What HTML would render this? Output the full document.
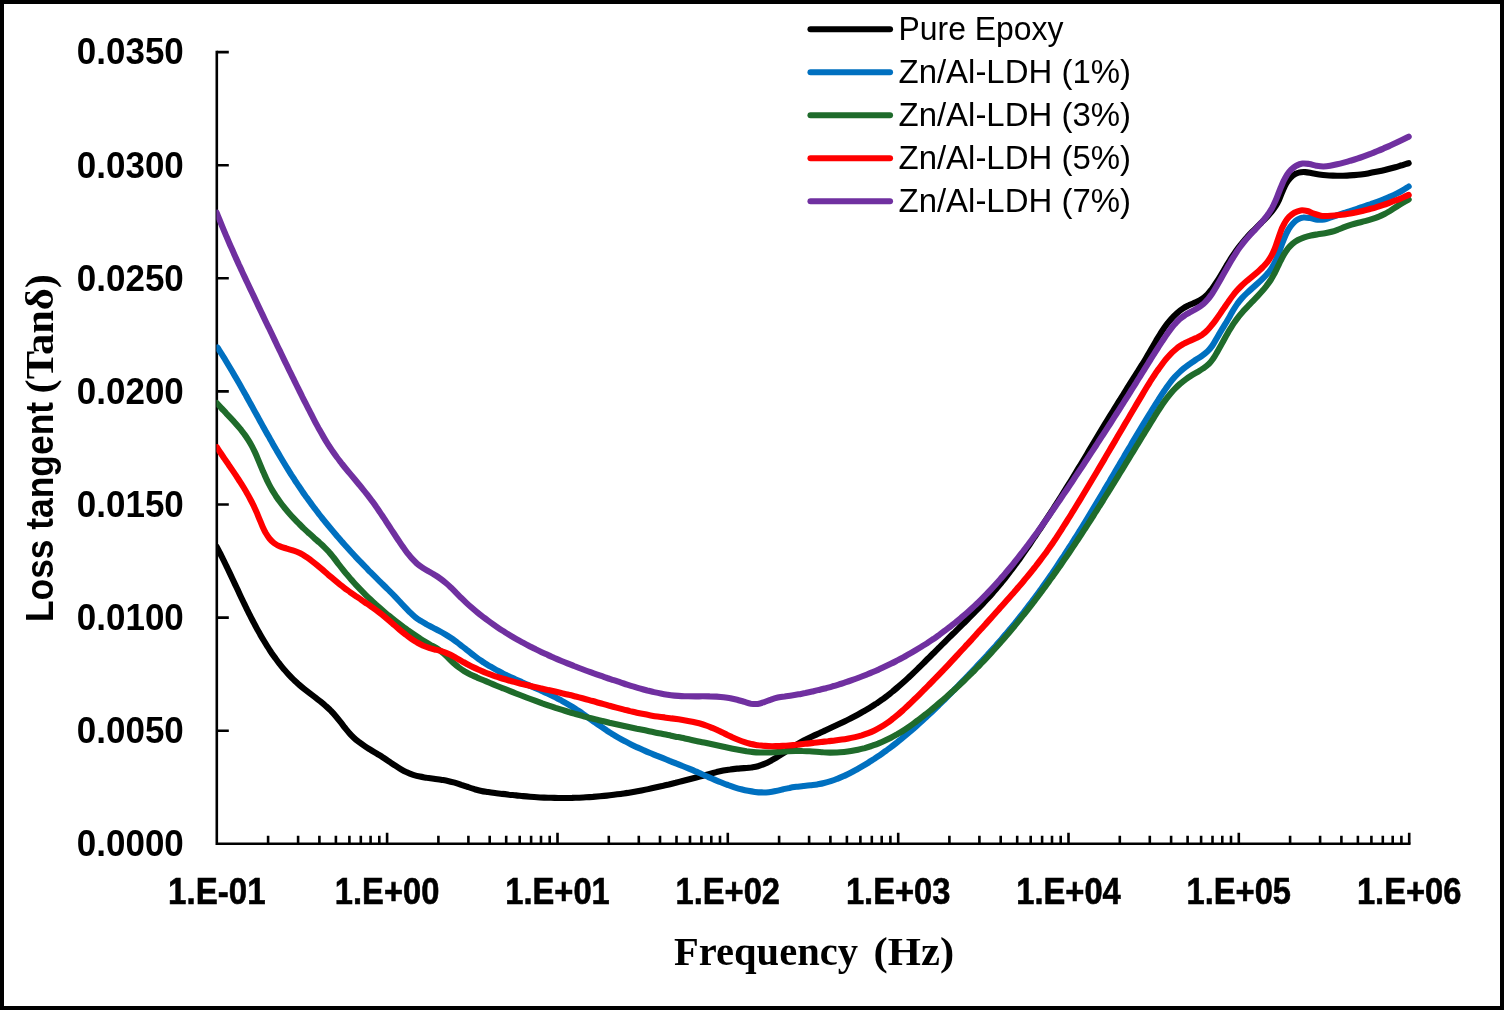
<!DOCTYPE html>
<html><head><meta charset="utf-8"><title>Loss tangent vs Frequency</title>
<style>html,body{margin:0;padding:0;background:#fff}body{width:1504px;height:1010px;overflow:hidden}svg{display:block}.yl{font-family:"Liberation Sans",sans-serif;font-weight:bold;font-size:37.5px;fill:#000}.xl{font-family:"Liberation Sans",sans-serif;font-weight:bold;font-size:36.5px;fill:#000;stroke:#000;stroke-width:0.6px}.lg{font-family:"Liberation Sans",sans-serif;font-size:33px;fill:#000}.ts{font-family:"Liberation Serif",serif;font-weight:bold;font-size:40.5px;fill:#000}.tb{font-family:"Liberation Sans",sans-serif;font-weight:bold;font-size:39px;fill:#000}.c{fill:none;stroke-width:6.1;stroke-linecap:round;stroke-linejoin:round}</style></head><body>
<svg width="1504" height="1010" viewBox="0 0 1504 1010">
<rect x="0" y="0" width="1504" height="1010" fill="#fff"/>
<rect x="2" y="2" width="1500" height="1006" fill="none" stroke="#000" stroke-width="4"/>
<g stroke="#000" stroke-width="2.6" fill="none" stroke-linecap="butt">
<path d="M216.8 50.8V843.8H1410.5"/>
<path d="M216.8 730.7h12M216.8 617.6h12M216.8 504.5h12M216.8 391.4h12M216.8 278.3h12M216.8 165.2h12M216.8 52.1h12"/>
<path d="M268.1 843.8v-8M298.1 843.8v-8M319.4 843.8v-8M335.9 843.8v-8M349.4 843.8v-8M360.8 843.8v-8M370.6 843.8v-8M379.3 843.8v-8M387.1 843.8v-11M438.4 843.8v-8M468.4 843.8v-8M489.7 843.8v-8M506.2 843.8v-8M519.7 843.8v-8M531.1 843.8v-8M541.0 843.8v-8M549.7 843.8v-8M557.5 843.8v-11M608.8 843.8v-8M638.8 843.8v-8M660.0 843.8v-8M676.5 843.8v-8M690.0 843.8v-8M701.4 843.8v-8M711.3 843.8v-8M720.0 843.8v-8M727.8 843.8v-11M779.1 843.8v-8M809.1 843.8v-8M830.4 843.8v-8M846.9 843.8v-8M860.4 843.8v-8M871.8 843.8v-8M881.7 843.8v-8M890.4 843.8v-8M898.2 843.8v-11M949.4 843.8v-8M979.4 843.8v-8M1000.7 843.8v-8M1017.2 843.8v-8M1030.7 843.8v-8M1042.1 843.8v-8M1052.0 843.8v-8M1060.7 843.8v-8M1068.5 843.8v-11M1119.8 843.8v-8M1149.8 843.8v-8M1171.1 843.8v-8M1187.6 843.8v-8M1201.1 843.8v-8M1212.5 843.8v-8M1222.3 843.8v-8M1231.0 843.8v-8M1238.8 843.8v-11M1290.1 843.8v-8M1320.1 843.8v-8M1341.4 843.8v-8M1357.9 843.8v-8M1371.4 843.8v-8M1382.8 843.8v-8M1392.7 843.8v-8M1401.4 843.8v-8M1409.2 843.8v-11"/>
</g>
<clipPath id="pc"><rect x="216.4" y="40" width="1210" height="810"/></clipPath><g clip-path="url(#pc)">
<path class="c" stroke="#000000" d="M216.7 546.8C217.2 547.8 218.9 550.9 219.9 553.0C221.0 555.1 222.0 557.2 223.1 559.3C224.1 561.4 225.1 563.5 226.2 565.6C227.2 567.7 228.2 569.8 229.2 571.9C230.2 574.0 231.2 576.1 232.2 578.3C233.2 580.4 234.2 582.5 235.2 584.6C236.2 586.7 237.2 588.8 238.2 590.9C239.1 593.1 240.1 595.2 241.1 597.3C242.1 599.4 243.1 601.5 244.2 603.6C245.2 605.7 246.2 607.8 247.2 609.9C248.3 612.0 249.3 614.1 250.4 616.2C251.4 618.3 252.5 620.3 253.6 622.4C254.7 624.5 255.8 626.5 256.9 628.6C258.0 630.7 259.2 632.7 260.3 634.7C261.5 636.8 262.7 638.8 263.9 640.8C265.1 642.8 266.3 644.8 267.6 646.8C268.8 648.8 270.1 650.7 271.4 652.7C272.7 654.6 274.1 656.5 275.5 658.4C276.8 660.3 278.2 662.2 279.7 664.0C281.1 665.9 282.6 667.7 284.1 669.4C285.6 671.2 287.1 672.9 288.7 674.6C290.3 676.3 291.9 678.0 293.6 679.6C295.3 681.3 297.0 682.8 298.7 684.4C300.4 685.9 302.2 687.4 304.1 688.9C305.9 690.3 307.7 691.7 309.6 693.2C311.4 694.6 313.3 696.0 315.2 697.4C317.0 698.8 318.9 700.3 320.7 701.7C322.5 703.2 324.3 704.7 326.0 706.2C327.8 707.8 329.5 709.3 331.1 711.0C332.8 712.7 334.3 714.4 335.8 716.2C337.3 718.0 338.8 719.9 340.2 721.7C341.7 723.6 343.1 725.5 344.5 727.3C346.0 729.1 347.5 731.0 349.0 732.7C350.5 734.5 352.1 736.1 353.8 737.7C355.5 739.3 357.3 740.7 359.2 742.2C361.0 743.6 362.9 744.9 364.9 746.2C366.8 747.5 368.8 748.7 370.8 750.0C372.8 751.2 374.9 752.4 376.9 753.6C378.9 754.9 381.0 756.1 382.9 757.4C384.9 758.7 386.9 760.0 388.9 761.4C390.9 762.7 392.8 764.1 394.8 765.3C396.7 766.6 398.7 767.9 400.7 769.1C402.7 770.3 404.7 771.4 406.8 772.3C408.9 773.3 411.0 774.1 413.2 774.8C415.4 775.5 417.6 776.1 419.9 776.6C422.1 777.1 424.5 777.4 426.8 777.8C429.1 778.1 431.5 778.4 433.8 778.7C436.2 779.1 438.5 779.3 440.9 779.7C443.2 780.1 445.5 780.4 447.8 780.9C450.1 781.4 452.4 782.0 454.7 782.6C456.9 783.3 459.1 784.0 461.3 784.8C463.6 785.5 465.8 786.3 468.0 787.0C470.2 787.8 472.4 788.5 474.6 789.2C476.8 789.8 479.1 790.4 481.4 790.9C483.6 791.4 485.9 791.7 488.2 792.1C490.5 792.5 492.8 792.8 495.1 793.1C497.5 793.4 499.8 793.6 502.1 793.9C504.4 794.1 506.8 794.4 509.1 794.7C511.4 794.9 513.8 795.2 516.1 795.4C518.4 795.6 520.8 795.9 523.1 796.1C525.4 796.3 527.8 796.5 530.1 796.7C532.4 796.9 534.7 797.1 537.1 797.2C539.4 797.4 541.7 797.5 544.1 797.6C546.4 797.7 548.7 797.8 551.1 797.8C553.4 797.9 555.7 797.9 558.1 798.0C560.4 798.0 562.7 798.0 565.0 798.0C567.4 798.0 569.7 797.9 572.0 797.9C574.4 797.8 576.7 797.8 579.0 797.7C581.3 797.6 583.7 797.5 586.0 797.3C588.3 797.2 590.6 797.0 592.9 796.9C595.3 796.7 597.6 796.5 599.9 796.3C602.2 796.1 604.5 795.9 606.9 795.6C609.2 795.4 611.5 795.1 613.8 794.8C616.1 794.5 618.4 794.2 620.7 793.9C623.0 793.6 625.3 793.2 627.7 792.9C630.0 792.5 632.3 792.1 634.6 791.7C636.9 791.3 639.2 790.9 641.5 790.4C643.8 790.0 646.1 789.6 648.3 789.1C650.6 788.6 652.9 788.1 655.2 787.6C657.5 787.1 659.8 786.6 662.1 786.1C664.4 785.5 666.6 785.0 668.9 784.5C671.2 783.9 673.5 783.3 675.7 782.8C678.0 782.2 680.3 781.6 682.6 781.0C684.8 780.5 687.1 779.9 689.4 779.3C691.6 778.7 693.9 778.1 696.2 777.5C698.4 776.9 700.7 776.3 702.9 775.7C705.2 775.1 707.5 774.5 709.7 773.9C712.0 773.3 714.2 772.7 716.5 772.1C718.7 771.6 721.0 771.1 723.3 770.6C725.6 770.1 727.9 769.7 730.2 769.4C732.5 769.0 734.8 768.8 737.1 768.6C739.5 768.4 741.8 768.3 744.2 768.1C746.5 767.9 748.8 767.8 751.1 767.5C753.4 767.1 755.7 766.8 757.9 766.2C760.1 765.6 762.3 764.8 764.4 763.9C766.6 763.1 768.7 762.0 770.7 760.9C772.8 759.8 774.8 758.5 776.9 757.3C778.9 756.0 780.9 754.7 782.9 753.4C784.9 752.1 786.8 750.7 788.8 749.4C790.8 748.1 792.8 746.9 794.8 745.7C796.8 744.5 798.8 743.3 800.8 742.2C802.9 741.1 804.9 740.1 806.9 739.1C809.0 738.1 811.0 737.1 813.1 736.1C815.2 735.1 817.3 734.2 819.4 733.2C821.5 732.2 823.6 731.3 825.7 730.3C827.8 729.3 830.0 728.3 832.1 727.3C834.2 726.3 836.4 725.3 838.5 724.3C840.7 723.3 842.8 722.3 845.0 721.2C847.1 720.2 849.2 719.1 851.4 718.0C853.5 716.9 855.6 715.8 857.7 714.7C859.8 713.6 861.9 712.4 863.9 711.2C866.0 710.1 868.0 708.8 870.0 707.6C872.1 706.4 874.0 705.1 876.0 703.8C877.9 702.5 879.9 701.2 881.8 699.8C883.7 698.5 885.5 697.1 887.4 695.7C889.2 694.3 891.0 692.8 892.8 691.4C894.6 689.9 896.4 688.4 898.1 686.9C899.9 685.4 901.6 683.9 903.4 682.3C905.1 680.8 906.8 679.2 908.5 677.6C910.2 676.1 911.9 674.5 913.5 672.9C915.2 671.3 916.9 669.7 918.5 668.0C920.2 666.4 921.8 664.8 923.5 663.1C925.1 661.5 926.8 659.9 928.4 658.2C930.1 656.6 931.7 654.9 933.4 653.3C935.0 651.6 936.6 650.0 938.3 648.3C940.0 646.7 941.6 645.0 943.3 643.4C944.9 641.7 946.6 640.1 948.3 638.4C949.9 636.8 951.6 635.2 953.3 633.5C955.0 631.9 956.6 630.2 958.3 628.6C960.0 627.0 961.7 625.3 963.3 623.7C965.0 622.0 966.7 620.4 968.3 618.7C970.0 617.0 971.6 615.4 973.3 613.7C974.9 612.0 976.6 610.3 978.2 608.7C979.8 607.0 981.4 605.3 983.0 603.6C984.6 601.9 986.2 600.1 987.8 598.4C989.4 596.7 991.0 595.0 992.5 593.2C994.0 591.4 995.6 589.7 997.1 587.9C998.6 586.1 1000.1 584.3 1001.6 582.5C1003.0 580.7 1004.5 578.9 1005.9 577.1C1007.4 575.2 1008.8 573.4 1010.2 571.5C1011.6 569.7 1013.0 567.8 1014.4 565.9C1015.8 564.0 1017.2 562.2 1018.6 560.3C1019.9 558.4 1021.3 556.5 1022.6 554.6C1024.0 552.6 1025.3 550.7 1026.6 548.8C1028.0 546.9 1029.3 545.0 1030.6 543.0C1031.9 541.1 1033.2 539.2 1034.5 537.2C1035.8 535.3 1037.1 533.3 1038.4 531.4C1039.7 529.4 1041.0 527.5 1042.3 525.5C1043.6 523.6 1044.9 521.6 1046.1 519.7C1047.4 517.7 1048.7 515.8 1050.0 513.8C1051.2 511.8 1052.5 509.9 1053.8 507.9C1055.0 505.9 1056.3 504.0 1057.6 502.0C1058.8 500.0 1060.1 498.0 1061.3 496.1C1062.6 494.1 1063.8 492.1 1065.0 490.1C1066.3 488.1 1067.5 486.1 1068.7 484.2C1070.0 482.2 1071.2 480.2 1072.4 478.2C1073.6 476.2 1074.8 474.2 1076.0 472.2C1077.2 470.2 1078.4 468.2 1079.7 466.2C1080.9 464.2 1082.1 462.2 1083.3 460.2C1084.5 458.2 1085.7 456.2 1086.9 454.2C1088.1 452.2 1089.3 450.1 1090.5 448.1C1091.7 446.1 1092.9 444.1 1094.1 442.1C1095.3 440.1 1096.5 438.1 1097.7 436.1C1098.9 434.1 1100.1 432.1 1101.3 430.1C1102.5 428.1 1103.7 426.1 1104.9 424.1C1106.1 422.1 1107.4 420.1 1108.6 418.1C1109.8 416.1 1111.0 414.1 1112.3 412.2C1113.5 410.2 1114.7 408.2 1116.0 406.2C1117.2 404.2 1118.4 402.2 1119.7 400.2C1120.9 398.2 1122.1 396.3 1123.4 394.3C1124.6 392.3 1125.9 390.3 1127.1 388.3C1128.4 386.4 1129.6 384.4 1130.8 382.4C1132.1 380.4 1133.3 378.5 1134.6 376.5C1135.8 374.5 1137.1 372.5 1138.3 370.6C1139.6 368.6 1140.8 366.6 1142.0 364.6C1143.3 362.7 1144.5 360.7 1145.7 358.7C1146.9 356.7 1148.1 354.6 1149.3 352.6C1150.5 350.6 1151.6 348.5 1152.8 346.5C1154.0 344.5 1155.2 342.4 1156.3 340.4C1157.5 338.4 1158.7 336.3 1160.0 334.4C1161.2 332.4 1162.5 330.4 1163.8 328.5C1165.1 326.6 1166.5 324.7 1167.9 322.9C1169.4 321.1 1170.9 319.3 1172.5 317.6C1174.0 315.9 1175.7 314.3 1177.5 312.7C1179.2 311.2 1181.1 309.7 1183.0 308.5C1185.0 307.2 1187.1 306.2 1189.2 305.1C1191.3 304.1 1193.6 303.3 1195.7 302.3C1197.8 301.3 1200.0 300.3 1201.9 299.0C1203.8 297.7 1205.6 296.2 1207.2 294.6C1208.9 293.0 1210.3 291.1 1211.7 289.3C1213.2 287.4 1214.5 285.4 1215.7 283.5C1217.0 281.5 1218.3 279.5 1219.5 277.5C1220.7 275.5 1221.9 273.5 1223.1 271.5C1224.3 269.5 1225.4 267.5 1226.6 265.5C1227.9 263.5 1229.1 261.5 1230.3 259.5C1231.6 257.5 1232.9 255.6 1234.2 253.6C1235.5 251.7 1236.9 249.8 1238.3 247.9C1239.7 246.0 1241.1 244.2 1242.6 242.4C1244.1 240.6 1245.6 238.8 1247.2 237.1C1248.7 235.4 1250.3 233.7 1252.0 232.0C1253.6 230.4 1255.3 228.7 1256.9 227.1C1258.6 225.4 1260.3 223.8 1261.9 222.1C1263.6 220.5 1265.2 218.8 1266.8 217.1C1268.4 215.3 1270.0 213.6 1271.5 211.8C1273.0 210.0 1274.4 208.1 1275.6 206.2C1276.8 204.2 1277.9 202.2 1278.9 200.1C1279.9 198.1 1280.6 195.9 1281.5 193.7C1282.5 191.5 1283.3 189.3 1284.4 187.1C1285.4 184.9 1286.6 182.7 1288.0 180.8C1289.4 178.8 1291.0 177.0 1292.7 175.6C1294.5 174.2 1296.6 173.1 1298.7 172.6C1300.8 172.0 1303.1 172.0 1305.3 172.1C1307.6 172.2 1309.9 172.9 1312.2 173.3C1314.5 173.7 1316.8 174.1 1319.1 174.4C1321.4 174.7 1323.7 175.0 1326.1 175.2C1328.4 175.4 1330.7 175.5 1333.0 175.6C1335.3 175.7 1337.7 175.8 1340.0 175.8C1342.3 175.8 1344.7 175.7 1347.0 175.6C1349.3 175.5 1351.6 175.3 1354.0 175.1C1356.3 174.9 1358.6 174.7 1360.9 174.4C1363.3 174.1 1365.6 173.8 1367.9 173.4C1370.2 173.0 1372.5 172.6 1374.8 172.1C1377.1 171.7 1379.4 171.2 1381.7 170.7C1384.0 170.2 1386.3 169.6 1388.5 169.0C1390.8 168.4 1393.1 167.8 1395.3 167.2C1397.6 166.6 1399.8 165.9 1402.0 165.3C1404.3 164.6 1407.6 163.5 1408.7 163.2"/>
<path class="c" stroke="#0070C0" d="M217.4 347.4C218.0 348.4 219.9 351.3 221.2 353.3C222.4 355.3 223.6 357.2 224.9 359.2C226.1 361.2 227.3 363.2 228.5 365.2C229.7 367.2 230.9 369.2 232.1 371.2C233.3 373.2 234.4 375.2 235.6 377.3C236.8 379.3 237.9 381.3 239.1 383.3C240.3 385.4 241.4 387.4 242.5 389.4C243.7 391.5 244.8 393.5 246.0 395.5C247.1 397.6 248.2 399.6 249.4 401.7C250.5 403.7 251.6 405.8 252.8 407.8C253.9 409.9 255.0 411.9 256.2 414.0C257.3 416.0 258.4 418.0 259.5 420.1C260.7 422.1 261.8 424.2 262.9 426.2C264.1 428.3 265.2 430.3 266.3 432.4C267.5 434.4 268.6 436.4 269.8 438.5C270.9 440.5 272.1 442.5 273.2 444.6C274.4 446.6 275.6 448.6 276.7 450.6C277.9 452.6 279.1 454.7 280.3 456.7C281.5 458.7 282.7 460.7 283.9 462.7C285.1 464.7 286.3 466.7 287.5 468.6C288.7 470.6 290.0 472.6 291.2 474.6C292.5 476.5 293.7 478.5 295.0 480.5C296.3 482.4 297.6 484.4 298.9 486.3C300.2 488.2 301.5 490.1 302.8 492.1C304.2 494.0 305.5 495.9 306.9 497.8C308.2 499.7 309.6 501.6 311.0 503.4C312.4 505.3 313.7 507.2 315.2 509.0C316.6 510.9 318.0 512.8 319.4 514.6C320.9 516.4 322.3 518.3 323.8 520.1C325.2 521.9 326.7 523.7 328.2 525.5C329.7 527.3 331.2 529.1 332.7 530.9C334.2 532.7 335.7 534.5 337.2 536.3C338.7 538.0 340.3 539.8 341.8 541.6C343.3 543.3 344.9 545.0 346.5 546.8C348.0 548.5 349.6 550.3 351.2 552.0C352.8 553.7 354.3 555.4 355.9 557.1C357.5 558.8 359.1 560.5 360.8 562.2C362.4 563.9 364.0 565.6 365.6 567.2C367.3 568.9 368.9 570.6 370.5 572.2C372.2 573.9 373.8 575.5 375.5 577.2C377.1 578.8 378.8 580.4 380.5 582.1C382.1 583.7 383.8 585.3 385.5 587.0C387.1 588.6 388.8 590.2 390.4 591.9C392.1 593.5 393.7 595.2 395.3 596.9C396.9 598.6 398.5 600.3 400.1 602.0C401.7 603.8 403.3 605.5 404.9 607.2C406.5 608.9 408.1 610.6 409.8 612.2C411.4 613.8 413.1 615.4 414.9 616.8C416.7 618.3 418.6 619.6 420.6 620.8C422.5 622.1 424.6 623.2 426.6 624.4C428.7 625.5 430.8 626.5 432.9 627.6C434.9 628.7 437.1 629.7 439.1 630.8C441.2 631.9 443.3 633.1 445.3 634.3C447.3 635.5 449.2 636.8 451.1 638.1C453.0 639.4 454.9 640.8 456.8 642.1C458.7 643.5 460.5 645.0 462.3 646.4C464.2 647.8 466.0 649.3 467.8 650.7C469.6 652.2 471.5 653.6 473.3 655.0C475.2 656.4 477.0 657.8 478.9 659.2C480.8 660.5 482.8 661.8 484.7 663.1C486.7 664.3 488.7 665.6 490.7 666.7C492.7 667.9 494.7 669.0 496.8 670.2C498.9 671.3 500.9 672.3 503.0 673.4C505.1 674.4 507.2 675.5 509.3 676.5C511.5 677.5 513.6 678.4 515.7 679.4C517.8 680.4 520.0 681.3 522.1 682.3C524.2 683.2 526.4 684.2 528.5 685.1C530.6 686.0 532.7 687.0 534.9 687.9C537.0 688.8 539.1 689.8 541.2 690.7C543.3 691.7 545.4 692.6 547.5 693.6C549.6 694.6 551.7 695.6 553.7 696.6C555.8 697.6 557.9 698.7 559.9 699.7C561.9 700.8 564.0 701.9 566.0 703.1C568.0 704.2 570.0 705.4 572.0 706.6C573.9 707.8 575.9 709.1 577.8 710.4C579.8 711.7 581.7 713.0 583.7 714.4C585.6 715.7 587.5 717.1 589.4 718.4C591.4 719.8 593.3 721.2 595.2 722.5C597.1 723.9 599.1 725.3 601.0 726.6C602.9 727.9 604.9 729.3 606.8 730.6C608.8 731.8 610.7 733.1 612.7 734.3C614.7 735.6 616.7 736.8 618.7 737.9C620.8 739.1 622.8 740.2 624.9 741.2C626.9 742.3 629.0 743.4 631.1 744.4C633.1 745.4 635.2 746.4 637.3 747.4C639.4 748.3 641.6 749.3 643.7 750.2C645.8 751.2 647.9 752.1 650.1 753.0C652.2 753.9 654.4 754.7 656.5 755.6C658.7 756.5 660.8 757.3 663.0 758.2C665.2 759.1 667.3 759.9 669.5 760.8C671.7 761.6 673.9 762.5 676.0 763.4C678.2 764.2 680.4 765.1 682.5 766.0C684.7 766.8 686.9 767.7 689.0 768.6C691.2 769.5 693.4 770.4 695.5 771.4C697.7 772.3 699.8 773.3 702.0 774.2C704.1 775.1 706.3 776.1 708.4 777.1C710.6 778.0 712.7 778.9 714.9 779.9C717.0 780.8 719.2 781.7 721.4 782.5C723.5 783.4 725.7 784.3 727.9 785.0C730.1 785.8 732.3 786.6 734.5 787.3C736.7 788.0 738.9 788.7 741.2 789.2C743.4 789.8 745.7 790.4 748.0 790.8C750.2 791.2 752.6 791.6 754.9 791.9C757.2 792.2 759.5 792.4 761.8 792.4C764.1 792.5 766.4 792.4 768.8 792.2C771.1 792.0 773.4 791.6 775.7 791.1C778.0 790.7 780.3 790.0 782.6 789.4C784.9 788.9 787.2 788.3 789.5 787.9C791.8 787.4 794.1 787.1 796.4 786.8C798.8 786.5 801.1 786.3 803.4 786.0C805.7 785.8 808.1 785.6 810.4 785.3C812.7 785.0 815.0 784.8 817.3 784.4C819.5 784.0 821.8 783.6 824.1 783.0C826.3 782.5 828.5 781.9 830.8 781.2C833.0 780.5 835.2 779.7 837.3 778.8C839.5 778.0 841.7 777.1 843.8 776.1C845.9 775.1 848.1 774.1 850.2 773.0C852.3 772.0 854.3 770.9 856.4 769.7C858.5 768.6 860.5 767.4 862.5 766.2C864.6 765.0 866.6 763.8 868.5 762.6C870.5 761.3 872.5 760.1 874.5 758.8C876.4 757.5 878.3 756.2 880.2 754.9C882.2 753.5 884.1 752.2 886.0 750.8C887.8 749.4 889.7 748.1 891.6 746.6C893.4 745.2 895.3 743.8 897.1 742.4C898.9 740.9 900.7 739.5 902.5 738.0C904.3 736.5 906.1 735.0 907.9 733.5C909.7 732.0 911.4 730.5 913.2 729.0C914.9 727.4 916.7 725.9 918.4 724.3C920.1 722.8 921.9 721.2 923.6 719.6C925.3 718.0 927.0 716.5 928.7 714.9C930.4 713.3 932.1 711.7 933.8 710.0C935.4 708.4 937.1 706.8 938.8 705.2C940.5 703.5 942.1 701.9 943.8 700.3C945.4 698.6 947.1 697.0 948.7 695.3C950.4 693.7 952.0 692.0 953.7 690.4C955.3 688.7 956.9 687.0 958.6 685.4C960.2 683.7 961.8 682.0 963.4 680.4C965.1 678.7 966.7 677.0 968.3 675.4C969.9 673.7 971.5 672.0 973.1 670.3C974.7 668.6 976.3 666.9 977.9 665.2C979.5 663.5 981.1 661.8 982.7 660.1C984.2 658.4 985.8 656.7 987.4 655.0C988.9 653.3 990.5 651.6 992.1 649.8C993.6 648.1 995.2 646.4 996.7 644.6C998.2 642.9 999.8 641.1 1001.3 639.4C1002.8 637.6 1004.3 635.8 1005.8 634.1C1007.3 632.3 1008.8 630.5 1010.3 628.7C1011.8 627.0 1013.3 625.2 1014.8 623.4C1016.2 621.6 1017.7 619.8 1019.2 617.9C1020.6 616.1 1022.1 614.3 1023.5 612.5C1024.9 610.6 1026.4 608.8 1027.8 606.9C1029.2 605.1 1030.6 603.2 1032.0 601.4C1033.4 599.5 1034.8 597.6 1036.2 595.7C1037.6 593.9 1038.9 592.0 1040.3 590.1C1041.7 588.2 1043.0 586.3 1044.4 584.4C1045.7 582.5 1047.1 580.6 1048.4 578.6C1049.7 576.7 1051.1 574.8 1052.4 572.9C1053.7 570.9 1055.0 569.0 1056.3 567.1C1057.6 565.1 1058.9 563.2 1060.2 561.2C1061.5 559.3 1062.8 557.3 1064.1 555.4C1065.4 553.4 1066.6 551.4 1067.9 549.5C1069.2 547.5 1070.4 545.5 1071.7 543.6C1072.9 541.6 1074.2 539.6 1075.4 537.6C1076.7 535.7 1077.9 533.7 1079.1 531.7C1080.4 529.7 1081.6 527.7 1082.8 525.8C1084.1 523.8 1085.3 521.8 1086.5 519.8C1087.7 517.8 1088.9 515.8 1090.1 513.8C1091.3 511.8 1092.5 509.8 1093.7 507.8C1094.9 505.8 1096.1 503.9 1097.3 501.9C1098.5 499.9 1099.7 497.9 1100.9 495.9C1102.1 493.9 1103.3 491.9 1104.4 489.9C1105.6 487.9 1106.8 485.9 1108.0 483.9C1109.2 481.9 1110.3 479.9 1111.5 477.9C1112.7 475.9 1113.9 473.9 1115.0 471.9C1116.2 469.9 1117.4 467.9 1118.6 465.9C1119.7 463.9 1120.9 461.9 1122.1 459.9C1123.3 457.9 1124.4 455.9 1125.6 453.9C1126.8 451.9 1128.0 449.9 1129.2 447.9C1130.4 445.9 1131.5 443.9 1132.7 441.9C1133.9 439.9 1135.1 437.9 1136.3 435.9C1137.5 433.9 1138.7 431.9 1139.9 429.9C1141.1 427.9 1142.3 425.9 1143.5 423.9C1144.7 421.9 1146.0 419.9 1147.2 417.9C1148.4 415.9 1149.6 413.9 1150.9 411.9C1152.1 409.9 1153.3 407.9 1154.6 405.9C1155.8 403.9 1157.1 401.9 1158.4 399.9C1159.6 397.9 1160.9 395.9 1162.2 393.9C1163.5 392.0 1164.8 390.0 1166.1 388.1C1167.5 386.2 1168.8 384.2 1170.3 382.4C1171.7 380.6 1173.2 378.8 1174.7 377.1C1176.3 375.3 1177.9 373.7 1179.6 372.1C1181.3 370.5 1183.0 369.1 1184.8 367.6C1186.6 366.2 1188.5 364.8 1190.4 363.5C1192.3 362.1 1194.3 360.9 1196.2 359.6C1198.2 358.3 1200.2 357.1 1202.1 355.7C1204.0 354.4 1205.9 353.0 1207.5 351.4C1209.2 349.8 1210.6 348.0 1212.0 346.1C1213.4 344.2 1214.5 342.1 1215.7 340.0C1216.9 338.0 1218.1 335.9 1219.3 333.9C1220.4 331.9 1221.7 329.9 1222.9 327.9C1224.1 325.9 1225.3 324.0 1226.5 322.0C1227.6 320.0 1228.8 318.0 1230.0 315.9C1231.2 313.9 1232.3 311.8 1233.5 309.8C1234.7 307.8 1236.0 305.8 1237.3 303.9C1238.7 302.0 1240.1 300.2 1241.7 298.4C1243.2 296.7 1244.9 295.0 1246.6 293.4C1248.3 291.8 1250.0 290.2 1251.8 288.6C1253.5 287.1 1255.3 285.5 1257.1 283.9C1258.8 282.4 1260.6 280.8 1262.2 279.2C1263.9 277.5 1265.5 275.9 1267.0 274.1C1268.6 272.3 1270.0 270.5 1271.3 268.6C1272.6 266.7 1273.7 264.6 1274.8 262.5C1275.9 260.4 1276.8 258.1 1277.7 255.9C1278.6 253.7 1279.4 251.3 1280.2 249.0C1281.1 246.8 1281.8 244.4 1282.7 242.2C1283.5 239.9 1284.4 237.7 1285.4 235.6C1286.3 233.4 1287.4 231.3 1288.5 229.4C1289.7 227.5 1291.0 225.6 1292.5 224.0C1294.0 222.4 1295.6 220.7 1297.4 219.7C1299.3 218.6 1301.3 217.7 1303.4 217.5C1305.5 217.2 1307.9 217.7 1310.2 218.1C1312.6 218.5 1315.1 219.5 1317.4 219.7C1319.8 219.9 1322.1 219.8 1324.3 219.5C1326.6 219.1 1328.7 218.1 1330.9 217.4C1333.1 216.7 1335.3 216.0 1337.5 215.2C1339.7 214.5 1341.9 213.8 1344.2 213.0C1346.4 212.3 1348.6 211.5 1350.8 210.8C1353.1 210.1 1355.3 209.3 1357.5 208.6C1359.7 207.8 1362.0 207.1 1364.2 206.3C1366.4 205.6 1368.6 204.8 1370.8 204.1C1373.0 203.3 1375.2 202.6 1377.3 201.8C1379.5 201.0 1381.6 200.2 1383.8 199.3C1385.9 198.4 1388.1 197.6 1390.2 196.6C1392.3 195.7 1394.4 194.7 1396.5 193.6C1398.5 192.6 1400.6 191.5 1402.6 190.3C1404.7 189.1 1407.7 187.1 1408.7 186.5"/>
<path class="c" stroke="#1F6B2B" d="M216.7 403.0C217.5 403.9 219.8 406.4 221.4 408.1C223.0 409.9 224.6 411.5 226.2 413.3C227.8 415.0 229.4 416.7 231.0 418.4C232.6 420.1 234.2 421.8 235.7 423.6C237.3 425.3 238.8 427.1 240.3 428.9C241.7 430.7 243.2 432.5 244.5 434.4C245.9 436.3 247.2 438.2 248.4 440.1C249.7 442.1 250.8 444.1 251.9 446.1C253.0 448.2 254.0 450.3 255.0 452.4C256.0 454.5 256.9 456.6 257.8 458.8C258.7 460.9 259.6 463.1 260.5 465.3C261.4 467.4 262.3 469.6 263.2 471.8C264.2 473.9 265.1 476.1 266.1 478.2C267.0 480.3 268.1 482.5 269.1 484.5C270.2 486.6 271.3 488.6 272.5 490.6C273.7 492.6 275.0 494.6 276.2 496.5C277.5 498.5 278.9 500.4 280.3 502.3C281.6 504.1 283.1 506.0 284.5 507.8C286.0 509.6 287.5 511.4 289.1 513.2C290.6 514.9 292.2 516.7 293.8 518.4C295.4 520.1 297.0 521.8 298.7 523.4C300.3 525.1 302.0 526.7 303.7 528.4C305.4 530.0 307.1 531.6 308.8 533.1C310.6 534.7 312.3 536.2 314.0 537.8C315.8 539.3 317.5 540.9 319.3 542.4C321.0 544.0 322.7 545.5 324.3 547.1C326.0 548.8 327.6 550.4 329.1 552.1C330.7 553.8 332.1 555.6 333.6 557.5C335.0 559.3 336.4 561.2 337.8 563.1C339.2 564.9 340.6 566.8 342.1 568.6C343.5 570.4 345.0 572.3 346.5 574.1C348.0 575.8 349.5 577.6 351.0 579.4C352.6 581.1 354.1 582.9 355.7 584.6C357.3 586.3 358.9 588.0 360.5 589.7C362.1 591.4 363.8 593.0 365.4 594.7C367.1 596.3 368.8 597.9 370.5 599.5C372.2 601.1 373.9 602.7 375.6 604.3C377.3 605.8 379.1 607.4 380.8 608.9C382.6 610.5 384.4 612.0 386.2 613.5C388.0 615.0 389.8 616.4 391.6 617.9C393.4 619.4 395.2 620.8 397.1 622.2C398.9 623.6 400.8 625.0 402.7 626.4C404.6 627.8 406.4 629.2 408.3 630.6C410.2 631.9 412.1 633.2 414.1 634.6C416.0 635.9 417.9 637.2 419.9 638.4C421.8 639.7 423.8 640.9 425.8 642.1C427.8 643.3 429.8 644.4 431.9 645.6C433.9 646.7 436.0 647.7 437.9 649.0C439.8 650.3 441.6 651.7 443.3 653.2C445.1 654.7 446.7 656.4 448.4 658.0C450.1 659.7 451.7 661.4 453.4 662.9C455.2 664.5 457.0 666.0 458.8 667.4C460.7 668.8 462.6 670.1 464.6 671.4C466.6 672.6 468.7 673.7 470.8 674.7C472.9 675.7 475.0 676.6 477.1 677.6C479.3 678.5 481.4 679.4 483.6 680.3C485.7 681.2 487.9 682.1 490.1 683.0C492.2 683.9 494.4 684.8 496.5 685.7C498.7 686.6 500.9 687.5 503.0 688.3C505.2 689.2 507.4 690.1 509.5 690.9C511.7 691.8 513.9 692.7 516.0 693.5C518.2 694.4 520.4 695.2 522.6 696.0C524.8 696.9 526.9 697.7 529.1 698.5C531.3 699.3 533.5 700.1 535.7 700.9C537.9 701.7 540.1 702.5 542.3 703.3C544.5 704.0 546.7 704.8 548.9 705.6C551.1 706.3 553.3 707.0 555.5 707.8C557.7 708.5 559.9 709.2 562.2 709.9C564.4 710.6 566.6 711.3 568.8 712.0C571.1 712.6 573.3 713.3 575.6 714.0C577.8 714.6 580.0 715.2 582.3 715.8C584.5 716.5 586.8 717.1 589.0 717.7C591.3 718.2 593.6 718.8 595.8 719.4C598.1 720.0 600.4 720.5 602.6 721.1C604.9 721.6 607.2 722.1 609.4 722.7C611.7 723.2 614.0 723.7 616.3 724.2C618.5 724.7 620.8 725.2 623.1 725.7C625.4 726.2 627.7 726.7 630.0 727.2C632.2 727.7 634.5 728.2 636.8 728.7C639.1 729.1 641.4 729.6 643.7 730.1C646.0 730.6 648.2 731.0 650.5 731.5C652.8 732.0 655.1 732.4 657.4 732.9C659.7 733.4 662.0 733.8 664.3 734.3C666.5 734.8 668.8 735.2 671.1 735.7C673.4 736.2 675.7 736.6 678.0 737.1C680.2 737.6 682.5 738.0 684.8 738.5C687.1 739.0 689.4 739.5 691.6 739.9C693.9 740.4 696.2 740.9 698.5 741.4C700.7 741.9 703.0 742.3 705.3 742.8C707.6 743.3 709.9 743.8 712.2 744.3C714.4 744.8 716.7 745.3 719.0 745.8C721.3 746.3 723.6 746.8 725.9 747.3C728.1 747.8 730.4 748.3 732.7 748.8C735.0 749.3 737.3 749.7 739.6 750.1C741.9 750.5 744.2 750.9 746.5 751.3C748.8 751.6 751.1 751.9 753.4 752.1C755.7 752.3 758.1 752.4 760.4 752.5C762.7 752.6 765.0 752.6 767.4 752.5C769.7 752.5 772.0 752.4 774.4 752.2C776.7 752.1 779.1 751.9 781.4 751.8C783.7 751.6 786.1 751.4 788.4 751.3C790.8 751.2 793.1 751.1 795.4 751.0C797.8 750.9 800.1 750.9 802.4 751.0C804.7 751.0 807.0 751.2 809.4 751.3C811.7 751.4 814.0 751.6 816.3 751.8C818.6 752.0 820.9 752.1 823.2 752.3C825.6 752.4 827.9 752.5 830.2 752.6C832.5 752.6 834.8 752.6 837.1 752.5C839.5 752.4 841.8 752.2 844.1 752.0C846.4 751.8 848.8 751.5 851.1 751.1C853.4 750.7 855.7 750.3 858.0 749.8C860.3 749.3 862.5 748.7 864.8 748.1C867.1 747.4 869.3 746.7 871.5 746.0C873.7 745.2 876.0 744.4 878.1 743.6C880.3 742.7 882.5 741.8 884.6 740.8C886.7 739.8 888.8 738.8 890.9 737.7C892.9 736.7 895.0 735.5 897.0 734.4C899.0 733.2 901.0 732.0 902.9 730.8C904.9 729.5 906.8 728.2 908.7 726.9C910.6 725.6 912.5 724.3 914.4 722.9C916.3 721.5 918.1 720.1 920.0 718.7C921.8 717.3 923.7 715.9 925.5 714.4C927.3 713.0 929.1 711.5 930.9 710.1C932.7 708.6 934.5 707.1 936.3 705.6C938.1 704.1 939.9 702.6 941.6 701.1C943.4 699.6 945.2 698.0 946.9 696.5C948.7 694.9 950.4 693.4 952.1 691.8C953.8 690.2 955.6 688.7 957.3 687.1C959.0 685.5 960.7 683.9 962.4 682.3C964.1 680.7 965.7 679.0 967.4 677.4C969.1 675.8 970.7 674.1 972.4 672.5C974.0 670.8 975.7 669.2 977.3 667.5C978.9 665.8 980.6 664.2 982.2 662.5C983.8 660.8 985.4 659.1 987.0 657.4C988.6 655.7 990.2 654.0 991.8 652.2C993.3 650.5 994.9 648.8 996.5 647.0C998.0 645.3 999.6 643.6 1001.1 641.8C1002.6 640.1 1004.2 638.3 1005.7 636.5C1007.2 634.8 1008.7 633.0 1010.2 631.2C1011.7 629.4 1013.2 627.6 1014.7 625.9C1016.2 624.1 1017.7 622.3 1019.1 620.5C1020.6 618.7 1022.1 616.8 1023.5 615.0C1025.0 613.2 1026.4 611.4 1027.8 609.6C1029.3 607.7 1030.7 605.9 1032.1 604.1C1033.5 602.2 1034.9 600.4 1036.3 598.5C1037.8 596.7 1039.1 594.8 1040.5 592.9C1041.9 591.1 1043.3 589.2 1044.7 587.4C1046.1 585.5 1047.4 583.6 1048.8 581.7C1050.1 579.8 1051.5 578.0 1052.9 576.1C1054.2 574.2 1055.5 572.3 1056.9 570.4C1058.2 568.5 1059.6 566.6 1060.9 564.7C1062.2 562.8 1063.5 560.9 1064.8 558.9C1066.2 557.0 1067.5 555.1 1068.8 553.2C1070.1 551.3 1071.4 549.3 1072.7 547.4C1074.0 545.5 1075.3 543.5 1076.5 541.6C1077.8 539.7 1079.1 537.7 1080.4 535.8C1081.7 533.8 1082.9 531.9 1084.2 529.9C1085.5 528.0 1086.7 526.0 1088.0 524.1C1089.3 522.1 1090.5 520.1 1091.8 518.2C1093.0 516.2 1094.3 514.3 1095.5 512.3C1096.8 510.3 1098.0 508.3 1099.3 506.4C1100.5 504.4 1101.8 502.4 1103.0 500.5C1104.2 498.5 1105.5 496.5 1106.7 494.5C1107.9 492.5 1109.2 490.6 1110.4 488.6C1111.6 486.6 1112.9 484.6 1114.1 482.6C1115.3 480.6 1116.6 478.6 1117.8 476.6C1119.0 474.6 1120.2 472.7 1121.5 470.7C1122.7 468.7 1123.9 466.7 1125.1 464.7C1126.3 462.7 1127.6 460.7 1128.8 458.7C1130.0 456.7 1131.2 454.7 1132.5 452.7C1133.7 450.7 1134.9 448.7 1136.1 446.7C1137.4 444.7 1138.6 442.7 1139.8 440.7C1141.0 438.7 1142.2 436.7 1143.5 434.7C1144.7 432.7 1145.9 430.7 1147.2 428.7C1148.4 426.7 1149.6 424.7 1150.8 422.7C1152.1 420.7 1153.3 418.7 1154.5 416.7C1155.8 414.7 1157.0 412.7 1158.3 410.7C1159.5 408.7 1160.8 406.8 1162.1 404.8C1163.4 402.9 1164.7 401.0 1166.1 399.1C1167.5 397.3 1168.9 395.5 1170.4 393.7C1171.9 391.9 1173.4 390.2 1175.0 388.6C1176.6 387.0 1178.3 385.4 1180.0 383.9C1181.8 382.4 1183.6 381.0 1185.4 379.6C1187.3 378.2 1189.3 376.9 1191.2 375.7C1193.2 374.4 1195.3 373.3 1197.3 372.1C1199.3 370.9 1201.3 369.8 1203.2 368.4C1205.1 367.1 1207.0 365.8 1208.6 364.2C1210.3 362.6 1211.7 360.8 1213.0 358.9C1214.4 357.0 1215.6 354.9 1216.7 352.9C1217.9 350.9 1219.1 348.8 1220.2 346.7C1221.4 344.6 1222.5 342.5 1223.6 340.5C1224.8 338.4 1225.9 336.3 1227.1 334.3C1228.2 332.2 1229.4 330.2 1230.7 328.2C1231.9 326.2 1233.1 324.2 1234.5 322.3C1235.8 320.4 1237.1 318.5 1238.6 316.7C1240.0 314.9 1241.5 313.1 1243.0 311.4C1244.6 309.7 1246.2 308.0 1247.8 306.3C1249.3 304.6 1251.0 303.0 1252.6 301.3C1254.2 299.6 1255.8 298.0 1257.4 296.3C1259.0 294.6 1260.6 292.9 1262.1 291.1C1263.7 289.4 1265.2 287.6 1266.6 285.7C1268.0 283.9 1269.4 282.0 1270.7 280.0C1272.0 278.0 1273.1 275.9 1274.3 273.8C1275.4 271.6 1276.5 269.4 1277.5 267.2C1278.6 265.1 1279.6 262.8 1280.7 260.7C1281.8 258.5 1282.8 256.4 1284.0 254.4C1285.2 252.4 1286.4 250.4 1287.8 248.7C1289.2 246.9 1290.7 245.2 1292.4 243.8C1294.1 242.4 1296.0 241.1 1298.0 240.0C1299.9 239.0 1302.1 238.1 1304.3 237.3C1306.5 236.6 1308.8 236.0 1311.0 235.5C1313.3 235.0 1315.6 234.7 1318.0 234.3C1320.3 233.9 1322.6 233.6 1324.9 233.2C1327.2 232.8 1329.5 232.3 1331.7 231.7C1334.0 231.1 1336.1 230.3 1338.3 229.5C1340.5 228.7 1342.7 227.7 1344.9 226.9C1347.1 226.1 1349.3 225.4 1351.5 224.7C1353.8 224.0 1356.0 223.4 1358.3 222.8C1360.5 222.2 1362.8 221.7 1365.0 221.1C1367.3 220.5 1369.5 219.9 1371.8 219.2C1374.0 218.5 1376.2 217.8 1378.3 216.9C1380.5 216.1 1382.6 215.1 1384.6 214.1C1386.7 213.0 1388.7 211.7 1390.7 210.5C1392.7 209.2 1394.6 207.9 1396.6 206.6C1398.6 205.3 1400.6 204.0 1402.6 202.8C1404.6 201.6 1407.7 200.0 1408.7 199.5"/>
<path class="c" stroke="#FF0000" d="M216.7 447.1C217.4 448.1 219.3 451.1 220.7 453.1C222.0 455.0 223.3 457.0 224.6 458.9C225.9 460.8 227.3 462.7 228.6 464.7C229.9 466.6 231.2 468.5 232.5 470.4C233.8 472.3 235.1 474.2 236.4 476.2C237.6 478.1 238.9 480.0 240.1 481.9C241.4 483.9 242.6 485.8 243.8 487.8C245.0 489.8 246.2 491.8 247.3 493.8C248.5 495.8 249.6 497.9 250.7 500.0C251.8 502.0 252.9 504.1 253.9 506.3C254.9 508.5 255.9 510.6 256.9 512.9C257.8 515.1 258.7 517.4 259.7 519.7C260.6 521.9 261.5 524.2 262.5 526.4C263.5 528.6 264.5 530.8 265.6 532.8C266.8 534.8 268.0 536.8 269.4 538.5C270.8 540.2 272.3 541.8 274.1 543.1C275.9 544.4 277.8 545.5 280.0 546.4C282.1 547.3 284.5 547.9 286.7 548.6C289.0 549.3 291.5 549.9 293.7 550.7C296.0 551.4 298.1 552.3 300.2 553.3C302.3 554.4 304.2 555.6 306.1 556.8C308.0 558.1 309.9 559.4 311.7 560.8C313.5 562.2 315.3 563.6 317.1 565.1C318.9 566.6 320.7 568.1 322.5 569.6C324.3 571.2 326.0 572.7 327.8 574.3C329.6 575.8 331.4 577.4 333.2 578.9C335.0 580.4 336.8 581.9 338.6 583.4C340.4 584.9 342.3 586.3 344.2 587.8C346.0 589.2 347.9 590.5 349.8 591.9C351.8 593.3 353.7 594.6 355.6 595.9C357.5 597.2 359.5 598.5 361.4 599.9C363.3 601.2 365.3 602.5 367.2 603.8C369.1 605.1 371.0 606.5 372.9 607.8C374.8 609.2 376.7 610.6 378.6 612.0C380.5 613.4 382.3 614.8 384.1 616.3C385.9 617.8 387.7 619.3 389.5 620.9C391.3 622.4 393.0 624.0 394.8 625.5C396.6 627.0 398.4 628.6 400.1 630.1C401.9 631.6 403.7 633.1 405.6 634.5C407.4 636.0 409.3 637.4 411.2 638.7C413.1 640.0 415.1 641.3 417.1 642.5C419.1 643.6 421.2 644.7 423.3 645.7C425.4 646.6 427.6 647.4 429.8 648.2C432.1 648.9 434.5 649.3 436.7 649.9C439.0 650.5 441.3 651.1 443.5 651.8C445.8 652.6 447.9 653.5 450.0 654.5C452.1 655.5 454.1 656.7 456.1 657.8C458.1 658.9 460.1 660.2 462.1 661.3C464.2 662.5 466.2 663.7 468.3 664.8C470.3 665.9 472.4 666.9 474.6 667.9C476.7 668.9 478.8 669.8 481.0 670.8C483.1 671.7 485.3 672.5 487.5 673.4C489.7 674.2 491.9 675.0 494.1 675.8C496.3 676.5 498.5 677.3 500.7 678.0C502.9 678.7 505.2 679.3 507.4 680.0C509.7 680.6 511.9 681.3 514.2 681.9C516.4 682.5 518.7 683.1 520.9 683.7C523.2 684.2 525.5 684.8 527.8 685.3C530.0 685.9 532.3 686.4 534.6 686.9C536.9 687.5 539.2 688.0 541.4 688.5C543.7 689.0 546.0 689.5 548.3 690.1C550.6 690.6 552.9 691.1 555.2 691.6C557.5 692.1 559.8 692.6 562.0 693.2C564.3 693.7 566.6 694.2 568.9 694.8C571.2 695.3 573.4 695.9 575.7 696.5C578.0 697.1 580.2 697.7 582.5 698.3C584.8 698.9 587.0 699.5 589.3 700.1C591.6 700.7 593.8 701.4 596.1 702.0C598.3 702.6 600.6 703.3 602.8 703.9C605.1 704.5 607.3 705.1 609.6 705.8C611.9 706.4 614.1 707.0 616.4 707.6C618.6 708.2 620.9 708.8 623.2 709.4C625.4 710.0 627.7 710.5 630.0 711.1C632.2 711.6 634.5 712.2 636.8 712.7C639.1 713.2 641.4 713.7 643.7 714.1C646.0 714.6 648.3 715.0 650.6 715.4C652.9 715.8 655.2 716.2 657.5 716.5C659.8 716.8 662.2 717.1 664.5 717.4C666.8 717.8 669.1 718.0 671.5 718.4C673.8 718.7 676.1 719.0 678.5 719.3C680.8 719.6 683.1 720.0 685.4 720.4C687.7 720.8 690.0 721.2 692.3 721.7C694.5 722.2 696.8 722.7 699.1 723.3C701.3 723.9 703.5 724.6 705.7 725.4C708.0 726.1 710.1 727.0 712.3 727.9C714.5 728.8 716.6 729.8 718.8 730.8C720.9 731.8 723.0 732.9 725.2 733.9C727.3 734.9 729.5 736.0 731.6 736.9C733.7 737.9 735.9 738.9 738.1 739.8C740.2 740.7 742.4 741.5 744.6 742.2C746.8 742.9 749.1 743.5 751.3 744.1C753.6 744.6 755.9 744.9 758.2 745.3C760.5 745.6 762.8 745.8 765.1 745.9C767.4 746.1 769.8 746.2 772.1 746.2C774.5 746.2 776.8 746.1 779.2 746.1C781.5 746.0 783.9 745.8 786.2 745.7C788.6 745.5 790.9 745.3 793.2 745.1C795.5 744.9 797.9 744.6 800.2 744.4C802.5 744.2 804.8 743.9 807.1 743.6C809.4 743.4 811.7 743.1 814.1 742.8C816.4 742.6 818.7 742.3 821.0 742.0C823.3 741.8 825.6 741.5 827.9 741.3C830.2 741.0 832.6 740.8 834.9 740.5C837.2 740.2 839.5 739.9 841.7 739.6C844.0 739.3 846.3 738.9 848.5 738.5C850.8 738.1 853.0 737.6 855.2 737.1C857.5 736.6 859.7 736.0 861.8 735.4C864.0 734.7 866.1 734.0 868.3 733.2C870.4 732.4 872.5 731.5 874.5 730.5C876.6 729.5 878.6 728.4 880.6 727.2C882.5 726.1 884.5 724.8 886.4 723.5C888.4 722.2 890.3 720.8 892.1 719.3C894.0 717.9 895.9 716.4 897.7 714.8C899.5 713.3 901.3 711.7 903.1 710.1C904.9 708.4 906.7 706.8 908.4 705.1C910.2 703.5 911.9 701.8 913.6 700.1C915.4 698.4 917.1 696.8 918.8 695.1C920.5 693.4 922.2 691.7 923.8 690.0C925.5 688.4 927.2 686.7 928.8 685.0C930.5 683.3 932.2 681.6 933.8 679.9C935.4 678.3 937.1 676.6 938.7 674.9C940.3 673.2 941.9 671.5 943.5 669.8C945.1 668.2 946.7 666.5 948.3 664.8C949.9 663.1 951.5 661.4 953.1 659.7C954.7 658.0 956.2 656.3 957.8 654.6C959.4 652.9 960.9 651.2 962.5 649.5C964.1 647.8 965.6 646.1 967.2 644.4C968.7 642.7 970.3 641.0 971.9 639.3C973.4 637.6 975.0 635.9 976.5 634.2C978.1 632.5 979.6 630.7 981.2 629.0C982.7 627.3 984.3 625.6 985.8 623.9C987.4 622.1 988.9 620.4 990.5 618.7C992.0 616.9 993.6 615.2 995.1 613.5C996.7 611.7 998.3 610.0 999.8 608.2C1001.4 606.5 1003.0 604.7 1004.5 603.0C1006.1 601.2 1007.6 599.5 1009.2 597.7C1010.8 595.9 1012.3 594.2 1013.9 592.4C1015.4 590.6 1017.0 588.8 1018.5 587.0C1020.0 585.3 1021.6 583.5 1023.1 581.7C1024.6 579.9 1026.1 578.0 1027.6 576.2C1029.1 574.4 1030.6 572.6 1032.1 570.8C1033.5 568.9 1035.0 567.1 1036.4 565.2C1037.9 563.4 1039.3 561.5 1040.7 559.6C1042.1 557.8 1043.5 555.9 1044.9 554.0C1046.3 552.1 1047.6 550.2 1049.0 548.3C1050.3 546.4 1051.6 544.5 1053.0 542.6C1054.3 540.6 1055.6 538.7 1056.8 536.8C1058.1 534.8 1059.4 532.9 1060.7 530.9C1061.9 529.0 1063.2 527.0 1064.4 525.0C1065.7 523.1 1066.9 521.1 1068.1 519.1C1069.4 517.2 1070.6 515.2 1071.8 513.2C1073.1 511.2 1074.3 509.2 1075.5 507.2C1076.7 505.2 1077.9 503.3 1079.1 501.3C1080.3 499.3 1081.6 497.3 1082.8 495.3C1084.0 493.3 1085.2 491.3 1086.4 489.3C1087.6 487.3 1088.8 485.2 1090.0 483.2C1091.2 481.2 1092.4 479.2 1093.6 477.2C1094.8 475.2 1096.0 473.2 1097.2 471.2C1098.4 469.1 1099.6 467.1 1100.8 465.1C1102.0 463.1 1103.2 461.1 1104.4 459.1C1105.5 457.0 1106.7 455.0 1107.9 453.0C1109.1 451.0 1110.3 448.9 1111.5 446.9C1112.7 444.9 1113.9 442.9 1115.1 440.9C1116.3 438.8 1117.4 436.8 1118.6 434.8C1119.8 432.8 1121.0 430.7 1122.2 428.7C1123.4 426.7 1124.6 424.7 1125.8 422.6C1127.0 420.6 1128.2 418.6 1129.3 416.6C1130.5 414.5 1131.7 412.5 1132.9 410.5C1134.1 408.5 1135.3 406.4 1136.5 404.4C1137.7 402.4 1138.9 400.4 1140.1 398.4C1141.3 396.4 1142.5 394.3 1143.7 392.3C1144.9 390.3 1146.1 388.3 1147.3 386.3C1148.5 384.3 1149.8 382.3 1151.0 380.3C1152.3 378.4 1153.5 376.4 1154.8 374.5C1156.1 372.5 1157.5 370.6 1158.8 368.7C1160.2 366.8 1161.6 364.9 1163.0 363.0C1164.4 361.2 1165.9 359.3 1167.4 357.6C1169.0 355.8 1170.5 354.1 1172.2 352.4C1173.9 350.8 1175.6 349.2 1177.4 347.8C1179.3 346.4 1181.2 345.1 1183.3 344.0C1185.3 342.8 1187.5 341.9 1189.6 340.9C1191.8 339.9 1194.1 339.1 1196.2 338.1C1198.3 337.0 1200.4 336.0 1202.3 334.7C1204.1 333.3 1205.9 331.8 1207.5 330.1C1209.2 328.5 1210.6 326.6 1212.1 324.8C1213.6 323.0 1215.0 321.1 1216.3 319.2C1217.7 317.3 1219.1 315.3 1220.4 313.4C1221.7 311.4 1223.0 309.4 1224.4 307.5C1225.7 305.5 1227.0 303.6 1228.4 301.7C1229.7 299.8 1231.1 297.8 1232.5 296.0C1233.9 294.2 1235.4 292.3 1236.9 290.6C1238.5 288.8 1240.1 287.2 1241.8 285.5C1243.5 283.9 1245.2 282.4 1247.0 280.8C1248.8 279.3 1250.6 277.8 1252.4 276.3C1254.2 274.8 1256.0 273.3 1257.8 271.8C1259.5 270.2 1261.3 268.6 1262.9 267.0C1264.5 265.3 1266.1 263.6 1267.5 261.8C1268.9 260.0 1270.2 258.0 1271.3 256.0C1272.5 253.9 1273.5 251.7 1274.4 249.5C1275.3 247.2 1276.1 244.8 1276.9 242.5C1277.7 240.2 1278.5 237.8 1279.3 235.4C1280.1 233.1 1280.9 230.8 1281.8 228.6C1282.8 226.4 1283.8 224.2 1285.0 222.3C1286.2 220.3 1287.4 218.5 1289.0 216.9C1290.6 215.3 1292.4 213.7 1294.3 212.7C1296.3 211.6 1298.5 210.7 1300.6 210.4C1302.8 210.1 1305.1 210.5 1307.3 211.0C1309.5 211.6 1311.7 212.9 1314.0 213.7C1316.2 214.5 1318.5 215.4 1320.8 215.8C1323.1 216.2 1325.4 216.0 1327.7 216.0C1330.0 215.9 1332.3 215.7 1334.6 215.5C1336.9 215.3 1339.2 215.1 1341.5 214.8C1343.9 214.5 1346.2 214.1 1348.5 213.7C1350.8 213.4 1353.1 212.9 1355.4 212.5C1357.7 212.0 1360.0 211.5 1362.3 211.0C1364.6 210.4 1366.9 209.8 1369.2 209.2C1371.4 208.6 1373.7 208.0 1376.0 207.3C1378.2 206.6 1380.5 205.9 1382.7 205.1C1384.9 204.4 1387.1 203.6 1389.3 202.8C1391.5 202.0 1393.7 201.2 1395.9 200.3C1398.1 199.5 1400.2 198.6 1402.4 197.7C1404.5 196.8 1407.6 195.4 1408.7 194.9"/>
<path class="c" stroke="#7030A0" d="M216.7 212.7C217.1 213.8 218.4 217.0 219.3 219.2C220.2 221.4 221.0 223.5 221.9 225.7C222.8 227.9 223.7 230.0 224.6 232.2C225.5 234.3 226.4 236.5 227.4 238.6C228.3 240.8 229.2 242.9 230.1 245.0C231.1 247.2 232.0 249.3 233.0 251.4C233.9 253.6 234.9 255.7 235.8 257.8C236.8 260.0 237.8 262.1 238.7 264.2C239.7 266.3 240.7 268.5 241.7 270.6C242.6 272.7 243.6 274.8 244.6 276.9C245.6 279.0 246.6 281.2 247.6 283.3C248.6 285.4 249.6 287.5 250.6 289.6C251.6 291.7 252.6 293.8 253.6 295.9C254.6 298.0 255.6 300.1 256.6 302.3C257.6 304.4 258.6 306.5 259.6 308.6C260.6 310.7 261.6 312.8 262.6 314.9C263.6 317.0 264.6 319.1 265.6 321.2C266.6 323.3 267.6 325.4 268.7 327.5C269.7 329.6 270.7 331.7 271.7 333.8C272.7 335.9 273.7 338.0 274.7 340.1C275.7 342.2 276.7 344.4 277.7 346.5C278.7 348.6 279.8 350.7 280.8 352.8C281.8 354.9 282.8 357.0 283.8 359.1C284.8 361.2 285.8 363.3 286.9 365.4C287.9 367.5 288.9 369.6 289.9 371.7C291.0 373.8 292.0 375.9 293.0 377.9C294.0 380.0 295.1 382.1 296.1 384.2C297.1 386.3 298.2 388.4 299.2 390.5C300.3 392.6 301.3 394.7 302.3 396.8C303.4 398.9 304.4 401.0 305.5 403.0C306.5 405.1 307.6 407.2 308.7 409.3C309.7 411.4 310.8 413.5 311.9 415.5C312.9 417.6 314.0 419.7 315.1 421.8C316.2 423.8 317.3 425.9 318.4 427.9C319.6 430.0 320.7 432.0 321.9 434.0C323.0 436.1 324.2 438.1 325.4 440.1C326.6 442.1 327.9 444.0 329.1 446.0C330.4 447.9 331.7 449.9 333.0 451.8C334.3 453.7 335.7 455.6 337.1 457.5C338.5 459.3 339.9 461.2 341.3 463.0C342.8 464.9 344.2 466.7 345.7 468.5C347.2 470.3 348.7 472.1 350.2 473.9C351.7 475.7 353.2 477.5 354.7 479.3C356.2 481.1 357.7 482.9 359.2 484.7C360.6 486.5 362.1 488.3 363.6 490.1C365.1 491.9 366.5 493.7 368.0 495.6C369.4 497.4 370.8 499.3 372.2 501.2C373.6 503.0 374.9 504.9 376.2 506.8C377.6 508.7 378.9 510.7 380.2 512.6C381.5 514.5 382.8 516.5 384.1 518.4C385.4 520.3 386.6 522.3 387.9 524.3C389.2 526.2 390.4 528.2 391.7 530.1C393.0 532.1 394.3 534.0 395.6 536.0C396.9 537.9 398.1 539.9 399.5 541.8C400.8 543.8 402.1 545.7 403.5 547.6C404.8 549.6 406.2 551.5 407.6 553.3C409.1 555.2 410.5 557.0 412.1 558.7C413.7 560.4 415.3 562.1 417.0 563.6C418.8 565.1 420.6 566.5 422.6 567.8C424.5 569.1 426.7 570.2 428.7 571.4C430.7 572.5 432.8 573.7 434.7 574.9C436.7 576.1 438.6 577.4 440.5 578.8C442.3 580.1 444.1 581.5 445.9 583.0C447.7 584.5 449.4 586.1 451.1 587.7C452.7 589.3 454.4 591.0 456.0 592.7C457.7 594.4 459.3 596.1 461.0 597.7C462.7 599.4 464.4 601.0 466.1 602.6C467.8 604.2 469.6 605.8 471.3 607.3C473.1 608.9 474.9 610.4 476.7 611.8C478.5 613.3 480.3 614.8 482.1 616.2C484.0 617.6 485.8 619.0 487.7 620.4C489.6 621.8 491.5 623.2 493.4 624.5C495.3 625.8 497.2 627.1 499.1 628.4C501.0 629.7 503.0 630.9 505.0 632.2C506.9 633.4 508.9 634.6 510.9 635.8C512.9 637.0 514.9 638.2 516.9 639.3C518.9 640.5 521.0 641.6 523.0 642.7C525.1 643.8 527.1 644.9 529.2 646.0C531.2 647.0 533.3 648.1 535.4 649.1C537.5 650.2 539.6 651.2 541.7 652.2C543.8 653.2 545.9 654.1 548.1 655.1C550.2 656.1 552.3 657.0 554.5 658.0C556.6 658.9 558.8 659.8 560.9 660.7C563.1 661.6 565.3 662.5 567.4 663.4C569.6 664.3 571.8 665.1 574.0 666.0C576.2 666.8 578.3 667.7 580.5 668.5C582.7 669.3 584.9 670.2 587.1 671.0C589.3 671.8 591.6 672.6 593.8 673.4C596.0 674.1 598.2 674.9 600.4 675.7C602.6 676.5 604.8 677.2 607.1 678.0C609.3 678.7 611.5 679.5 613.7 680.2C616.0 680.9 618.2 681.7 620.4 682.4C622.6 683.1 624.9 683.9 627.1 684.6C629.3 685.3 631.5 686.0 633.8 686.6C636.0 687.3 638.2 688.0 640.5 688.6C642.7 689.3 644.9 689.9 647.2 690.5C649.4 691.0 651.7 691.6 653.9 692.1C656.2 692.6 658.5 693.1 660.7 693.5C663.0 694.0 665.3 694.4 667.6 694.7C669.9 695.1 672.2 695.4 674.5 695.6C676.8 695.8 679.1 696.0 681.5 696.1C683.8 696.3 686.1 696.3 688.5 696.3C690.8 696.4 693.2 696.4 695.6 696.4C697.9 696.4 700.3 696.3 702.6 696.3C705.0 696.3 707.3 696.3 709.7 696.4C712.0 696.4 714.4 696.5 716.7 696.6C719.0 696.8 721.3 697.0 723.6 697.3C725.9 697.6 728.1 697.9 730.4 698.3C732.7 698.8 734.9 699.3 737.2 699.8C739.5 700.4 741.7 701.1 744.0 701.7C746.3 702.4 748.6 703.3 750.9 703.7C753.2 704.0 755.4 704.2 757.7 703.9C759.9 703.6 762.1 702.8 764.3 702.1C766.6 701.4 768.8 700.3 771.0 699.6C773.2 698.8 775.5 698.1 777.8 697.6C780.1 697.1 782.4 696.8 784.7 696.5C787.0 696.1 789.3 695.8 791.6 695.4C793.9 695.1 796.2 694.7 798.5 694.3C800.8 693.9 803.1 693.4 805.4 693.0C807.7 692.5 810.0 692.0 812.3 691.5C814.5 691.0 816.8 690.5 819.1 689.9C821.4 689.4 823.6 688.8 825.9 688.2C828.1 687.6 830.4 687.0 832.6 686.3C834.9 685.7 837.1 685.0 839.3 684.3C841.6 683.7 843.8 682.9 846.0 682.2C848.2 681.5 850.4 680.7 852.6 679.9C854.8 679.2 857.0 678.4 859.2 677.5C861.4 676.7 863.6 675.9 865.7 675.0C867.9 674.1 870.0 673.3 872.2 672.3C874.3 671.4 876.5 670.5 878.6 669.6C880.7 668.6 882.9 667.6 885.0 666.6C887.1 665.6 889.2 664.6 891.3 663.6C893.4 662.6 895.4 661.5 897.5 660.4C899.6 659.3 901.6 658.2 903.7 657.1C905.7 656.0 907.8 654.9 909.8 653.7C911.8 652.6 913.8 651.4 915.8 650.2C917.8 649.0 919.8 647.8 921.8 646.5C923.7 645.3 925.7 644.0 927.7 642.8C929.6 641.5 931.5 640.2 933.5 638.9C935.4 637.6 937.3 636.2 939.2 634.9C941.1 633.5 943.0 632.1 944.8 630.7C946.7 629.4 948.5 627.9 950.4 626.5C952.2 625.1 954.0 623.6 955.9 622.2C957.7 620.7 959.5 619.2 961.2 617.7C963.0 616.2 964.8 614.7 966.5 613.2C968.3 611.6 970.0 610.1 971.7 608.5C973.4 606.9 975.1 605.3 976.8 603.7C978.5 602.1 980.1 600.5 981.8 598.8C983.4 597.2 985.1 595.5 986.7 593.9C988.3 592.2 989.9 590.5 991.5 588.8C993.1 587.1 994.7 585.4 996.2 583.7C997.8 581.9 999.4 580.2 1000.9 578.4C1002.4 576.7 1004.0 574.9 1005.5 573.1C1007.0 571.4 1008.5 569.6 1010.0 567.8C1011.5 566.0 1013.0 564.1 1014.4 562.3C1015.9 560.5 1017.4 558.7 1018.8 556.8C1020.3 555.0 1021.7 553.1 1023.1 551.3C1024.6 549.4 1026.0 547.5 1027.4 545.7C1028.8 543.8 1030.2 541.9 1031.6 540.0C1033.0 538.1 1034.4 536.2 1035.8 534.3C1037.2 532.4 1038.5 530.5 1039.9 528.6C1041.3 526.7 1042.6 524.8 1044.0 522.9C1045.4 521.0 1046.7 519.0 1048.0 517.1C1049.4 515.2 1050.7 513.2 1052.1 511.3C1053.4 509.4 1054.7 507.5 1056.0 505.5C1057.4 503.6 1058.7 501.6 1060.0 499.7C1061.3 497.8 1062.6 495.8 1063.9 493.9C1065.2 492.0 1066.5 490.0 1067.9 488.1C1069.2 486.1 1070.5 484.2 1071.8 482.3C1073.1 480.3 1074.3 478.4 1075.6 476.4C1076.9 474.5 1078.2 472.6 1079.5 470.6C1080.8 468.7 1082.1 466.8 1083.4 464.8C1084.6 462.9 1085.9 460.9 1087.2 459.0C1088.5 457.1 1089.8 455.1 1091.0 453.2C1092.3 451.2 1093.6 449.3 1094.8 447.4C1096.1 445.4 1097.4 443.5 1098.6 441.5C1099.9 439.6 1101.2 437.6 1102.4 435.7C1103.7 433.8 1105.0 431.8 1106.2 429.9C1107.5 427.9 1108.7 426.0 1110.0 424.0C1111.2 422.1 1112.5 420.1 1113.7 418.2C1115.0 416.2 1116.2 414.2 1117.5 412.3C1118.7 410.3 1120.0 408.4 1121.2 406.4C1122.5 404.5 1123.7 402.5 1124.9 400.5C1126.2 398.6 1127.4 396.6 1128.7 394.6C1129.9 392.7 1131.1 390.7 1132.4 388.7C1133.6 386.8 1134.8 384.8 1136.1 382.8C1137.3 380.8 1138.5 378.8 1139.8 376.9C1141.0 374.9 1142.2 372.9 1143.5 370.9C1144.7 368.9 1145.9 366.9 1147.2 365.0C1148.4 363.0 1149.6 361.0 1150.9 359.0C1152.1 357.0 1153.4 355.0 1154.6 353.1C1155.9 351.1 1157.2 349.1 1158.4 347.1C1159.7 345.2 1161.0 343.2 1162.3 341.2C1163.6 339.3 1164.9 337.3 1166.2 335.4C1167.6 333.4 1168.9 331.5 1170.3 329.6C1171.7 327.7 1173.1 325.9 1174.7 324.2C1176.2 322.4 1177.8 320.8 1179.5 319.2C1181.3 317.7 1183.1 316.4 1185.1 315.1C1187.0 313.8 1189.2 312.8 1191.2 311.6C1193.3 310.5 1195.4 309.4 1197.4 308.2C1199.4 307.0 1201.3 305.7 1203.1 304.2C1204.8 302.7 1206.4 301.1 1207.9 299.3C1209.4 297.6 1210.7 295.6 1212.1 293.7C1213.4 291.8 1214.6 289.7 1215.8 287.7C1217.0 285.7 1218.2 283.6 1219.4 281.5C1220.6 279.5 1221.7 277.4 1222.9 275.3C1224.0 273.3 1225.2 271.2 1226.3 269.2C1227.5 267.1 1228.7 265.1 1229.9 263.0C1231.0 261.0 1232.2 259.0 1233.5 257.0C1234.7 255.0 1236.0 253.1 1237.2 251.1C1238.5 249.2 1239.9 247.3 1241.3 245.5C1242.6 243.6 1244.1 241.8 1245.6 240.0C1247.0 238.3 1248.6 236.6 1250.2 234.8C1251.7 233.1 1253.3 231.5 1254.9 229.8C1256.5 228.1 1258.1 226.4 1259.6 224.6C1261.1 222.9 1262.7 221.2 1264.2 219.3C1265.6 217.5 1267.1 215.7 1268.4 213.8C1269.7 211.8 1271.0 209.8 1272.2 207.7C1273.3 205.6 1274.4 203.4 1275.3 201.2C1276.3 199.0 1277.2 196.6 1278.1 194.3C1279.1 192.0 1279.9 189.7 1280.8 187.4C1281.8 185.2 1282.7 182.9 1283.7 180.8C1284.7 178.7 1285.8 176.7 1287.0 174.8C1288.3 173.0 1289.6 171.2 1291.1 169.7C1292.6 168.2 1294.3 166.8 1296.2 165.8C1298.1 164.8 1300.3 163.9 1302.5 163.6C1304.6 163.3 1307.0 163.7 1309.3 164.0C1311.6 164.4 1314.0 165.3 1316.3 165.7C1318.7 166.1 1321.0 166.5 1323.4 166.5C1325.7 166.5 1328.0 166.2 1330.2 165.8C1332.5 165.4 1334.8 164.9 1337.1 164.3C1339.3 163.8 1341.6 163.2 1343.8 162.6C1346.1 162.0 1348.3 161.4 1350.5 160.7C1352.8 160.1 1355.0 159.4 1357.2 158.6C1359.4 157.9 1361.6 157.1 1363.8 156.3C1366.0 155.5 1368.2 154.7 1370.4 153.9C1372.6 153.0 1374.8 152.2 1376.9 151.3C1379.1 150.4 1381.3 149.5 1383.4 148.6C1385.5 147.6 1387.7 146.7 1389.8 145.7C1391.9 144.8 1394.1 143.8 1396.2 142.8C1398.3 141.8 1400.4 140.8 1402.5 139.8C1404.6 138.8 1407.7 137.2 1408.7 136.7"/>
</g>
<text class="yl" x="183.8" y="856.1" text-anchor="end" textLength="107" lengthAdjust="spacingAndGlyphs">0.0000</text>
<text class="yl" x="183.8" y="743.0" text-anchor="end" textLength="107" lengthAdjust="spacingAndGlyphs">0.0050</text>
<text class="yl" x="183.8" y="629.9" text-anchor="end" textLength="107" lengthAdjust="spacingAndGlyphs">0.0100</text>
<text class="yl" x="183.8" y="516.8" text-anchor="end" textLength="107" lengthAdjust="spacingAndGlyphs">0.0150</text>
<text class="yl" x="183.8" y="403.7" text-anchor="end" textLength="107" lengthAdjust="spacingAndGlyphs">0.0200</text>
<text class="yl" x="183.8" y="290.6" text-anchor="end" textLength="107" lengthAdjust="spacingAndGlyphs">0.0250</text>
<text class="yl" x="183.8" y="177.5" text-anchor="end" textLength="107" lengthAdjust="spacingAndGlyphs">0.0300</text>
<text class="yl" x="183.8" y="64.4" text-anchor="end" textLength="107" lengthAdjust="spacingAndGlyphs">0.0350</text>
<text class="xl" x="216.8" y="903.7" text-anchor="middle" textLength="97.5" lengthAdjust="spacingAndGlyphs">1.E-01</text>
<text class="xl" x="387.1" y="903.7" text-anchor="middle" textLength="104.5" lengthAdjust="spacingAndGlyphs">1.E+00</text>
<text class="xl" x="557.5" y="903.7" text-anchor="middle" textLength="104.5" lengthAdjust="spacingAndGlyphs">1.E+01</text>
<text class="xl" x="727.8" y="903.7" text-anchor="middle" textLength="104.5" lengthAdjust="spacingAndGlyphs">1.E+02</text>
<text class="xl" x="898.2" y="903.7" text-anchor="middle" textLength="104.5" lengthAdjust="spacingAndGlyphs">1.E+03</text>
<text class="xl" x="1068.5" y="903.7" text-anchor="middle" textLength="104.5" lengthAdjust="spacingAndGlyphs">1.E+04</text>
<text class="xl" x="1238.8" y="903.7" text-anchor="middle" textLength="104.5" lengthAdjust="spacingAndGlyphs">1.E+05</text>
<text class="xl" x="1409.2" y="903.7" text-anchor="middle" textLength="104.5" lengthAdjust="spacingAndGlyphs">1.E+06</text>
<text class="ts" y="964.5"><tspan x="674" textLength="184" lengthAdjust="spacingAndGlyphs">Frequency</tspan> <tspan x="873.6" textLength="80.5" lengthAdjust="spacingAndGlyphs">(Hz)</tspan></text>
<g transform="translate(53.3 622) rotate(-90)"><text class="tb" x="0" y="0" textLength="220" lengthAdjust="spacingAndGlyphs">Loss tangent</text><text class="ts" x="228.5" y="0" textLength="119.5" lengthAdjust="spacingAndGlyphs">(Tanδ)</text></g>
<path class="c" stroke="#000000" d="M810.5 29.3H890"/>
<text class="lg" x="898.5" y="39.6" textLength="165.0" lengthAdjust="spacingAndGlyphs">Pure Epoxy</text>
<path class="c" stroke="#0070C0" d="M810.5 72.3H890"/>
<text class="lg" x="898.5" y="82.6" textLength="232.5" lengthAdjust="spacingAndGlyphs">Zn/Al-LDH (1%)</text>
<path class="c" stroke="#1F6B2B" d="M810.5 115.2H890"/>
<text class="lg" x="898.5" y="125.5" textLength="232.5" lengthAdjust="spacingAndGlyphs">Zn/Al-LDH (3%)</text>
<path class="c" stroke="#FF0000" d="M810.5 158.2H890"/>
<text class="lg" x="898.5" y="168.5" textLength="232.5" lengthAdjust="spacingAndGlyphs">Zn/Al-LDH (5%)</text>
<path class="c" stroke="#7030A0" d="M810.5 201.2H890"/>
<text class="lg" x="898.5" y="211.5" textLength="232.5" lengthAdjust="spacingAndGlyphs">Zn/Al-LDH (7%)</text>
</svg></body></html>
